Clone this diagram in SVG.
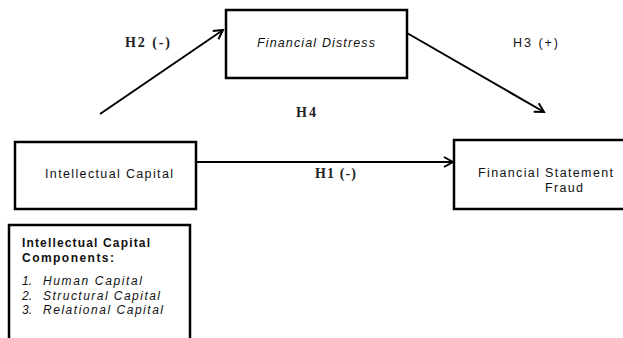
<svg xmlns="http://www.w3.org/2000/svg" width="623" height="338" viewBox="0 0 623 338">
<defs>
<style>
.box{fill:#fff;stroke:#000;stroke-width:2.5}
.line{fill:none;stroke:#000;stroke-width:2}
.sans{font-family:"Liberation Sans",Arial,sans-serif;font-size:12.5px;fill:#111}
.small{font-size:12px}
.serif{font-family:"Liberation Serif","Times New Roman",serif;font-size:14px;font-weight:bold;fill:#222}
.it{font-style:italic}
.b{font-weight:bold}
</style>
<marker id="arr" viewBox="0 0 12 12" refX="10" refY="6" markerWidth="12" markerHeight="12" markerUnits="userSpaceOnUse" orient="auto">
<path d="M1,1 L10,6 L1,11" fill="none" stroke="#000" stroke-width="2"/>
</marker>
</defs>
<rect width="623" height="338" fill="#fff"/>
<g id="connectors">
<line class="line" x1="100" y1="114" x2="223" y2="30" marker-end="url(#arr)"/>
<line class="line" x1="407" y1="33" x2="544" y2="112" marker-end="url(#arr)"/>
<line class="line" x1="197" y1="162" x2="453" y2="162" marker-end="url(#arr)"/>
<text class="serif" x="125" y="47" textLength="45">H2 (-)</text>
<text class="sans" x="513" y="47" textLength="45">H3 (+)</text>
<text class="serif" x="296" y="117" textLength="20">H4</text>
<text class="serif" x="315" y="178" textLength="41">H1 (-)</text>
</g>
<g id="financial-distress">
<rect class="box" x="226" y="10" width="181" height="68"/>
<text class="sans it" x="257" y="47" textLength="118">Financial Distress</text>
</g>
<g id="intellectual-capital">
<rect class="box" x="15" y="142" width="181" height="67"/>
<text class="sans" x="45" y="178" textLength="128">Intellectual Capital</text>
</g>
<g id="financial-statement-fraud">
<rect class="box" x="454" y="140" width="175" height="69"/>
<text class="sans" x="478" y="177" textLength="135">Financial Statement</text>
<text class="sans" x="545" y="192" textLength="38">Fraud</text>
</g>
<g id="components">
<rect class="box" x="9" y="225" width="181" height="120"/>
<text class="sans small b" x="22" y="247" textLength="128">Intellectual Capital</text>
<text class="sans small b" x="22" y="262" textLength="92">Components:</text>
<text class="sans small it" x="22" y="285">1.</text>
<text class="sans small it" x="43" y="285" textLength="99">Human Capital</text>
<text class="sans small it" x="22" y="300">2.</text>
<text class="sans small it" x="43" y="300" textLength="117">Structural Capital</text>
<text class="sans small it" x="22" y="314">3.</text>
<text class="sans small it" x="43" y="314" textLength="120">Relational Capital</text>
</g>
</svg>
